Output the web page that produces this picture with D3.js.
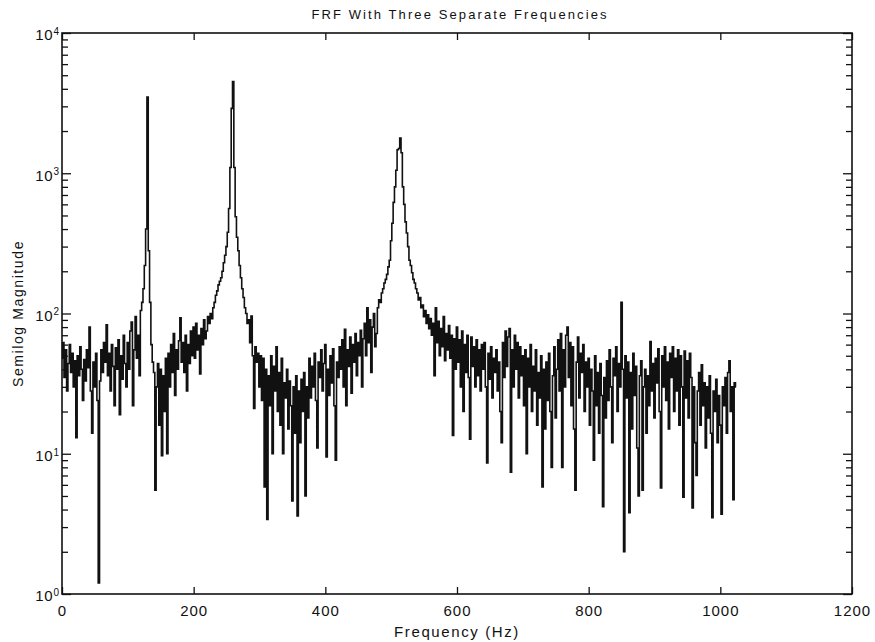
<!DOCTYPE html>
<html>
<head>
<meta charset="utf-8">
<script src="https://cdn.jsdelivr.net/npm/d3@7"></script>
<style>
  body { margin: 0; background: #fff; }
  text { font-family: "Liberation Sans", Arial, Helvetica, sans-serif; fill: #111; }
</style>
</head>
<body>
<div id="chart--wrap"></div>
<script>
;(function() {

const margin = { top: 33, right: 23, bottom: 48, left: 62 };
const width = 875 - margin.left - margin.right;
const height = 642 - margin.top - margin.bottom;

const titleText = 'FRF With Three Separate Frequencies';
const xLabel = 'Frequency (Hz)';
const yLabel = 'Semilog Magnitude';
const xTickValues = [0, 200, 400, 600, 800, 1000, 1200];
const yDecades = [1, 10, 100, 1000, 10000];
const freqStep = 2; // Hz between samples, first sample at 0 Hz

// Magnitude, one value every 2 Hz from 0 to 1024 Hz
const magnitude = [
  48, 62, 35, 55, 28, 44, 60, 38, 52, 30,
  46, 13, 50, 36, 58, 40, 24, 47, 33, 55,
  41, 80, 28, 14, 45, 30, 52, 24, 1.2, 33,
  55, 38, 62, 45, 83, 36, 52, 28, 60, 42,
  22, 57, 40, 65, 19, 50, 34, 70, 44, 30,
  62, 40, 75, 87, 22, 55, 95, 48, 70, 36,
  105, 120, 150, 220, 400, 3500, 280, 120, 60, 45,
  38, 5.5, 30, 44, 16, 40, 9.7, 36, 20, 48,
  10, 52, 30, 60, 38, 72, 26, 55, 40, 64,
  93, 45, 62, 38, 70, 28, 60, 44, 75, 50,
  80, 48, 85, 55, 70, 37, 78, 60, 90, 66,
  75, 95, 85, 100, 92, 110, 120, 135, 145, 160,
  170, 180, 200, 230, 260, 300, 380, 560, 1100, 2900,
  4500, 1100, 490, 350, 280, 220, 180, 150, 130, 110,
  100, 85, 90, 62, 96, 50, 21, 58, 45, 52,
  30, 50, 24, 48, 5.8, 40, 3.4, 36, 22, 50,
  10, 42, 28, 58, 20, 38, 16, 48, 10, 32,
  25, 40, 15, 33, 22, 4.6, 30, 14, 36, 3.6,
  28, 12, 34, 20, 38, 5, 30, 18, 48, 25,
  42, 30, 52, 24, 11, 45, 35, 55, 28, 44,
  60, 9.5, 40, 26, 50, 32, 56, 22, 9, 45,
  35, 58, 40, 65, 30, 77, 22, 55, 42, 68,
  27, 60, 45, 72, 36, 62, 50, 76, 30, 66,
  85, 50, 110, 62, 90, 38, 80, 100, 58, 72,
  110, 125, 120, 140, 150, 165, 175, 190, 215, 240,
  330, 440, 620, 800, 1050, 1470, 1500, 1780, 1400, 800,
  600, 450, 375, 300, 240, 220, 195, 175, 165, 150,
  140, 125, 130, 110, 115, 95, 105, 85, 98, 78,
  92, 70, 85, 36, 110, 62, 88, 50, 78, 58,
  95, 46, 72, 55, 82, 48, 70, 13.5, 66, 40,
  80, 45, 65, 30, 75, 20, 60, 38, 70, 35,
  12.7, 68, 42, 58, 30, 65, 36, 55, 28, 60,
  40, 62, 30, 8.6, 52, 34, 58, 25, 48, 38,
  55, 28, 45, 20, 12, 62, 35, 75, 42, 68,
  78, 7.4, 55, 30, 70, 40, 62, 25, 58, 36,
  50, 22, 55, 10, 48, 30, 60, 20, 42, 28,
  55, 16, 38, 25, 50, 5.8, 40, 15, 45, 24,
  52, 20, 8, 36, 58, 18, 40, 65, 28, 72,
  8, 55, 30, 70, 80, 35, 62, 22, 58, 15,
  5.5, 45, 68, 25, 52, 38, 60, 20, 45, 30,
  48, 16, 40, 28, 9, 50, 22, 38, 14, 44,
  26, 4.2, 35, 18, 46, 24, 55, 30, 12, 48,
  36, 58, 20, 44, 30, 120, 40, 2, 50, 25,
  45, 3.8, 38, 15, 52, 26, 42, 11, 5, 36,
  46, 5.5, 30, 40, 14, 36, 22, 63, 28, 44,
  18, 48, 32, 56, 20, 5.7, 50, 30, 58, 24,
  45, 15, 52, 35, 58, 20, 48, 28, 55, 16,
  50, 30, 4.9, 54, 25, 46, 18, 52, 35, 4.1,
  30, 12, 7, 28, 38, 16, 43, 22, 32, 11,
  30, 18, 36, 14, 3.5, 28, 20, 34, 12, 26,
  16, 3.7, 30, 22, 35, 14, 38, 46, 20, 30,
  4.7, 32, 30
];

// Scales
const x = d3.scaleLinear().domain([0, 1200]).range([0, width]);
const y = d3.scaleLog().domain([1, 10000]).range([height, 0]);

// Minor log ticks 2..9 inside each decade
const yMinor = [];
yDecades.slice(0, -1).forEach(d => {
  for (let k = 2; k < 10; k++) yMinor.push(d * k);
});

const svg = d3.select('#chart--wrap').append('svg')
  .attr('width', 875)
  .attr('height', 642);

const group = svg.append('g')
  .attr('transform', `translate(${margin.left}, ${margin.top})`);

// Data line, drawn as stairs like the original trace
const line = d3.line()
  .x((d, i) => x(i * freqStep))
  .y(d => y(d))
  .curve(d3.curveStep);

group.append('path')
  .datum(magnitude)
  .attr('d', line)
  .style('fill', 'none')
  .style('stroke', '#111')
  .style('stroke-width', 1.6);

// X axes (ticks point inward)
const xBottom = group.append('g')
  .attr('class', 'x-axis')
  .attr('transform', `translate(0, ${height})`)
  .call(d3.axisBottom(x).tickValues(xTickValues).tickSize(-7).tickPadding(11).tickFormat(d3.format('d')));

group.append('g')
  .call(d3.axisTop(x).tickValues(xTickValues).tickSize(-7).tickFormat(''));

// Y axes, major and minor
const yLeft = group.append('g')
  .attr('class', 'y-axis')
  .call(d3.axisLeft(y).tickValues(yDecades).tickSize(-9).tickPadding(3));

group.append('g')
  .call(d3.axisLeft(y).tickValues(yMinor).tickSize(-6).tickFormat(''));

group.append('g')
  .attr('transform', `translate(${width}, 0)`)
  .call(d3.axisRight(y).tickValues(yDecades).tickSize(-9).tickFormat(''));

group.append('g')
  .attr('transform', `translate(${width}, 0)`)
  .call(d3.axisRight(y).tickValues(yMinor).tickSize(-6).tickFormat(''));

group.selectAll('.domain').remove();
group.selectAll('.tick line')
  .attr('stroke', '#111')
  .attr('stroke-width', 1.3);

xBottom.selectAll('text')
  .style('font-size', '15px')
  .style('letter-spacing', '1px')
  .attr('fill', '#111');

// 10 with superscript exponent
yLeft.selectAll('text')
  .attr('dy', '0.45em')
  .style('font-size', '15px')
  .attr('fill', '#111')
  .text(null)
  .each(function(d) {
    const t = d3.select(this);
    t.append('tspan').text('10').style('letter-spacing', '0.8px');
    t.append('tspan')
      .attr('dy', '-0.55em')
      .style('font-size', '10px')
      .text(Math.round(Math.log10(d)));
  });

// Frame
group.append('rect')
  .attr('width', width)
  .attr('height', height)
  .style('fill', 'none')
  .style('stroke', '#111')
  .style('stroke-width', 1.6);

// Title and labels
svg.append('text')
  .attr('x', margin.left + width / 2 + 3)
  .attr('y', 19)
  .attr('text-anchor', 'middle')
  .style('font-size', '13px')
  .style('letter-spacing', '2.1px')
  .text(titleText);

svg.append('text')
  .attr('x', margin.left + width / 2)
  .attr('y', 637)
  .attr('text-anchor', 'middle')
  .style('font-size', '15px')
  .style('letter-spacing', '1.6px')
  .text(xLabel);

svg.append('text')
  .attr('transform', `translate(23, ${margin.top + height / 2}) rotate(-90)`)
  .attr('text-anchor', 'middle')
  .style('font-size', '14px')
  .style('letter-spacing', '1.6px')
  .text(yLabel);

})();
</script>
</body>
</html>
